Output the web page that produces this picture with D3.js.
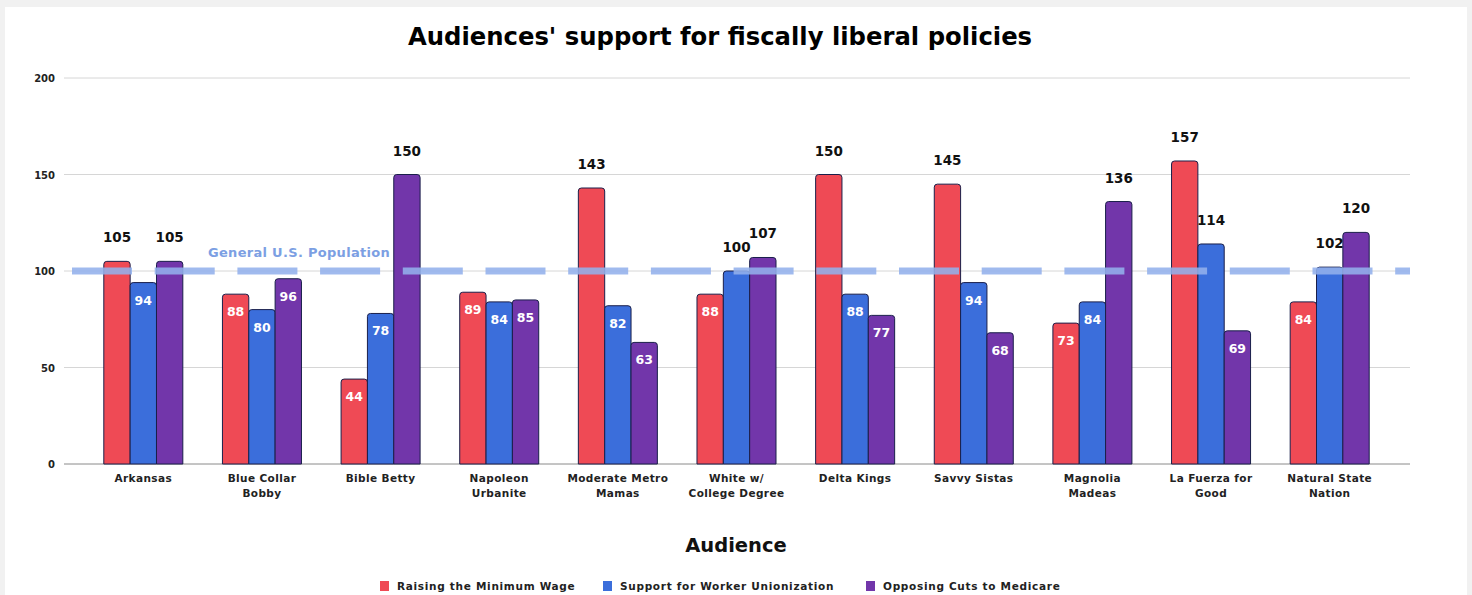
<!DOCTYPE html>
<html>
<head>
<meta charset="utf-8">
<script src="https://cdn.jsdelivr.net/npm/d3@7/dist/d3.min.js"></script>
<style>
  html, body { margin: 0; padding: 0; background: #f1f1f1; }
  svg { display: block; }
  text { font-family: "DejaVu Sans", "Liberation Sans", Arial, sans-serif; font-weight: bold; }
</style>
</head>
<body>
<svg id="chart" width="1472" height="595"></svg>
<script>
// Audience segments (x categories), each label split into display lines
const audiences = [
  ["Arkansas"],
  ["Blue Collar", "Bobby"],
  ["Bible Betty"],
  ["Napoleon", "Urbanite"],
  ["Moderate Metro", "Mamas"],
  ["White w/", "College Degree"],
  ["Delta Kings"],
  ["Savvy Sistas"],
  ["Magnolia", "Madeas"],
  ["La Fuerza for", "Good"],
  ["Natural State", "Nation"]
];
const seriesNames = ["Raising the Minimum Wage", "Support for Worker Unionization", "Opposing Cuts to Medicare"];
const minimumWage = [105, 88, 44, 89, 143, 88, 150, 145, 73, 157, 84];
const unionization = [94, 80, 78, 84, 82, 100, 88, 94, 84, 114, 102];
const medicare = [105, 96, 150, 85, 63, 107, 77, 68, 136, 69, 120];
const yTicks = [0, 50, 100, 150, 200];
const benchmark = 100;
const benchmarkLabel = "General U.S. Population";

const colors = ["#ef4a55", "#3b6edb", "#7236aa"];
const seriesValues = [minimumWage, unionization, medicare];

const svg = d3.select("#chart");

// white card
svg.append("rect").attr("x", 5).attr("y", 7).attr("width", 1462).attr("height", 590).attr("fill", "#ffffff");

const gridLeft = 64, gridRight = 1410;
const x = d3.scaleBand().domain(d3.range(audiences.length)).range([84, 1389]).paddingInner(0.334).paddingOuter(0.167);
const xs = d3.scaleBand().domain(d3.range(3)).range([0, x.bandwidth()]);
const y = d3.scaleLinear().domain([0, 200]).range([464, 78]);

// title
svg.append("text").attr("x", 720).attr("y", 45).attr("text-anchor", "middle")
  .attr("font-size", 24.3).attr("fill", "#000")
  .text("Audiences' support for fiscally liberal policies");

// gridlines + y tick labels
const gy = svg.append("g");
gy.selectAll("line").data(yTicks).join("line")
  .attr("x1", gridLeft).attr("x2", gridRight)
  .attr("y1", d => y(d)).attr("y2", d => y(d))
  .attr("stroke", d => d === 0 ? "#8a8a8a" : "#d6d6d6").attr("stroke-width", 1);
gy.selectAll("text").data(yTicks).join("text")
  .attr("x", 55).attr("y", d => y(d) + 4).attr("text-anchor", "end")
  .attr("font-size", 10).attr("fill", "#222")
  .text(d => d);

// bars
const rows = [];
audiences.forEach((a, i) => seriesValues.forEach((vals, s) => rows.push({ i, s, v: vals[i] })));

function topRounded(x0, y0, w, h, r) {
  r = Math.min(r, h, w / 2);
  return `M${x0},${y0 + h}V${y0 + r}Q${x0},${y0} ${x0 + r},${y0}H${x0 + w - r}Q${x0 + w},${y0} ${x0 + w},${y0 + r}V${y0 + h}Z`;
}

svg.append("g").selectAll("path").data(rows).join("path")
  .attr("d", d => {
    const x0 = x(d.i) + xs(d.s);
    return topRounded(x0, y(d.v), xs.bandwidth(), y(0) - y(d.v), 3);
  })
  .attr("fill", d => colors[d.s])
  .attr("stroke", "#1a1f4a").attr("stroke-width", 1);

// benchmark dashed line
svg.append("line")
  .attr("x1", 72).attr("x2", gridRight).attr("y1", y(benchmark)).attr("y2", y(benchmark))
  .attr("stroke", "#93b1ec").attr("stroke-opacity", 0.88).attr("stroke-width", 7)
  .attr("stroke-dasharray", "60,22.7");
svg.append("text").attr("x", 208).attr("y", y(benchmark) - 14)
  .attr("font-family", "Lato, 'Open Sans', sans-serif")
  .attr("font-size", 13).attr("fill", "#7c9fe3")
  .attr("letter-spacing", 0.3)
  .text(benchmarkLabel);

// value labels: above bar when >= benchmark, inside bar otherwise
svg.append("g").selectAll("text").data(rows).join("text")
  .attr("x", d => x(d.i) + xs(d.s) + xs.bandwidth() / 2)
  .attr("y", d => d.v >= benchmark ? y(d.v) - 19 : y(d.v) + 22)
  .attr("text-anchor", "middle")
  .attr("font-size", d => d.v >= benchmark ? 13.5 : 12.5)
  .attr("fill", d => d.v >= benchmark ? "#111" : "#ffffff")
  .text(d => d.v);

// x tick labels
const xl = svg.append("g");
audiences.forEach((lines, i) => {
  const cx = x(i) + x.bandwidth() / 2;
  const t = xl.append("text").attr("x", cx).attr("y", 482)
    .attr("text-anchor", "middle").attr("font-size", 10.5).attr("letter-spacing", 0.4).attr("fill", "#222");
  lines.forEach((ln, k) => t.append("tspan").attr("x", cx).attr("dy", k === 0 ? 0 : 15).text(ln));
});

// axis title
svg.append("text").attr("x", 736).attr("y", 552).attr("text-anchor", "middle")
  .attr("font-size", 19.5).attr("fill", "#111").text("Audience");

// legend
const legendX = [380, 603, 866];
const lg = svg.append("g");
seriesNames.forEach((name, s) => {
  lg.append("rect").attr("x", legendX[s]).attr("y", 581).attr("width", 9).attr("height", 10).attr("fill", colors[s]);
  lg.append("text").attr("x", legendX[s] + 17).attr("y", 590).attr("font-size", 10.5)
    .attr("letter-spacing", 0.7).attr("fill", "#222").text(name);
});
</script>
</body>
</html>
